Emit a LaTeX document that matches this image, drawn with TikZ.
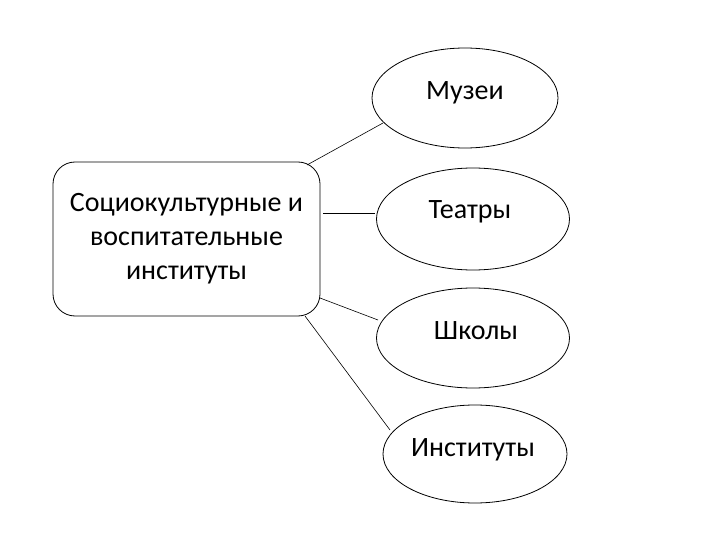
\documentclass[tikz,border=0pt]{standalone}
\usepackage{fontspec}
\setmainfont{Carlito}
\usetikzlibrary{shapes.geometric}
\begin{document}
\begin{tikzpicture}[x=1pt,y=-1pt,
  ell/.style={draw,ellipse,line width=0.8pt,minimum width=#1,minimum height=100pt,inner sep=0pt},
  lbl/.style={font=\fontsize{28}{34}\selectfont},
  conn/.style={draw,line width=0.6pt}]
\useasboundingbox (0,0) rectangle (720,540);
\node[draw,rounded corners=22pt,line width=0.8pt,minimum width=267pt,minimum height=154pt,align=center,lbl] (src) at (186.5,239) {Социокультурные и\\воспитательные\\институты};
\node[ell=186pt,minimum height=100pt] (m) at (465,98) {};
\node[lbl] at (465,93) {Музеи};
\node[ell=193pt,minimum height=102pt] (t) at (473,219) {};
\node[lbl] at (470,212) {Театры};
\node[ell=193pt,minimum height=100pt] (s) at (473,338) {};
\node[lbl] at (476,331) {Школы};
\node[ell=184pt,minimum height=98pt] (i) at (475,454) {};
\node[lbl] at (473,450) {Институты};
\coordinate (a1) at (307,165); \coordinate (b1) at (383,123);
\coordinate (a2) at (323,213); \coordinate (b2) at (375,213);
\coordinate (a3) at (320,298); \coordinate (b3) at (378,320);
\coordinate (a4) at (305,316); \coordinate (b4) at (390,430);
\draw[conn] (a1) -- (b1);
\draw[conn] (a2) -- (b2);
\draw[conn] (a3) -- (b3);
\draw[conn] (a4) -- (b4);
\end{tikzpicture}
\end{document}
